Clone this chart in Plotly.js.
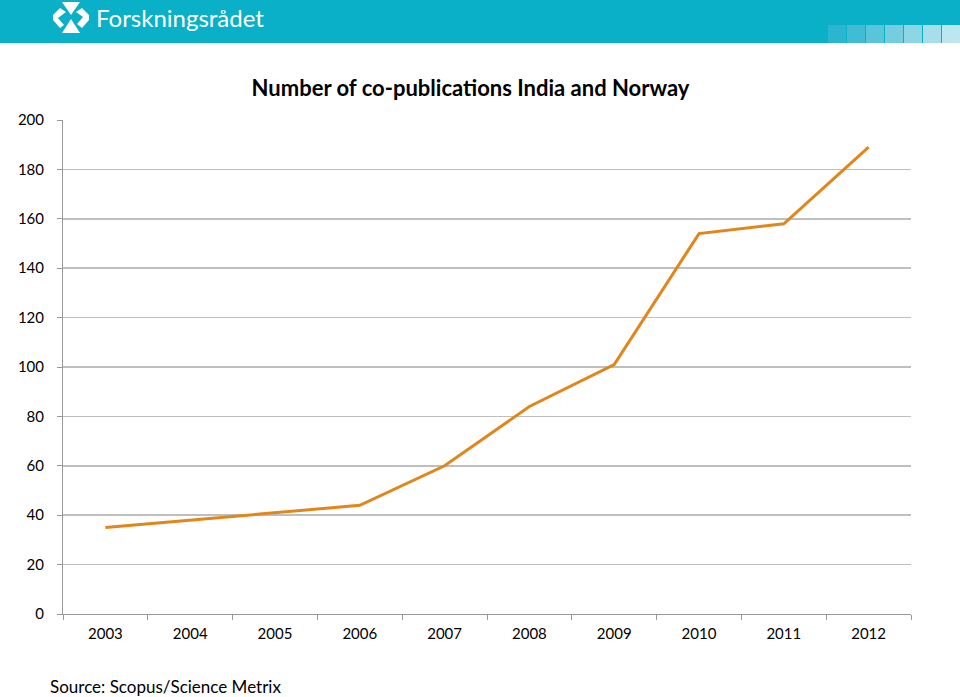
<!DOCTYPE html>
<html>
<head>
<meta charset="utf-8">
<script src="https://cdn.plot.ly/plotly-3.0.1.min.js"></script>
<style>html,body{margin:0;padding:0;background:#fff;}#chart{width:960px;height:697px;}</style>
</head>
<body>
<div id="chart"></div>
<script>
const years = ["2003","2004","2005","2006","2007","2008","2009","2010","2011","2012"];
const coPublications = [35, 38, 41, 44, 60, 84, 101, 154, 158, 189];
const yTicks = [0, 20, 40, 60, 80, 100, 120, 140, 160, 180, 200];
const chartTitle = "Number of co-publications India and Norway";
const sourceText = "Source: Scopus/Science Metrix";
const brandName = "Forskningsrådet";

const W = 960, H = 697;
const L = 63, R = 911, T = 120, B = 614;
const px = x => (x - L) / (R - L);
const py = y => (B - y) / (B - T);

const shapes = [];
shapes.push({type:'rect', xref:'paper', yref:'paper', x0:px(0), x1:px(W), y0:py(0), y1:py(43), fillcolor:'#0AAFC8', line:{width:0}, layer:'below'});
const sq = ['#2AB6CE','#40BDD4','#5AC5DA','#75CEE0','#8DD6E5','#A6DFEB','#BDE7F0'];
sq.forEach((c,i)=>{
  shapes.push({type:'rect', xref:'paper', yref:'paper', x0:px(828+i*19), x1:px(828+(i+1)*19-1), y0:py(25), y1:py(43), fillcolor:c, line:{width:0}});
});
function path(pts){ return 'M ' + pts.map(p=>px(p[0])+' '+py(p[1])).join(' L ') + ' Z'; }
shapes.push({type:'path', xref:'paper', yref:'paper', path:path([[62,2],[80,2],[71,15]]), fillcolor:'#fff', line:{width:0}});
shapes.push({type:'path', xref:'paper', yref:'paper', path:path([[71,19],[80,33],[62,33]]), fillcolor:'#fff', line:{width:0}});
shapes.push({type:'path', xref:'paper', yref:'paper', path:path([[60,8],[66,12],[58,18],[64,25],[60,28],[53,20],[53,15]]), fillcolor:'#fff', line:{width:0}});
shapes.push({type:'path', xref:'paper', yref:'paper', path:path([[82,8],[89,15],[89,20],[82,28],[77,24],[83,17],[76,12]]), fillcolor:'#fff', line:{width:0}});

const annotations = [
  {xref:'paper', yref:'paper', x:px(94), y:py(18), xanchor:'left', yanchor:'middle', showarrow:false,
   text:brandName, font:{family:'Lato, Open Sans, sans-serif', size:24, color:'#ffffff'}},
  {xref:'paper', yref:'paper', x:px(48), y:py(686), xanchor:'left', yanchor:'middle', showarrow:false,
   text:sourceText, font:{family:'Lato, Open Sans, sans-serif', size:17, color:'#000'}}
];

const trace = {
  x: years, y: coPublications, type:'scatter', mode:'lines',
  line:{color:'#E0861A', width:3}, hoverinfo:'x+y'
};

const layout = {
  width:W, height:H,
  margin:{l:L, r:W-R, t:T, b:H-B, pad:0},
  paper_bgcolor:'#fff', plot_bgcolor:'#fff',
  title:{text:'<b>'+chartTitle+'</b>', x:470.5/W, xanchor:'center', y:1-88/H, yanchor:'middle',
    font:{family:'Lato, Open Sans, sans-serif', size:22, color:'#000'}},
  showlegend:false,
  xaxis:{type:'category', tickvals:years, ticktext:years, range:[-0.5,9.5], tickson:'boundaries', ticks:'outside', ticklen:5, tickcolor:'#999',
    showline:true, linecolor:'#999', linewidth:1, showgrid:false, zeroline:false, ticklabelstandoff:6,
    tickfont:{family:'Lato, Open Sans, sans-serif', size:15, color:'#000'}, fixedrange:true},
  yaxis:{range:[0,200], tickvals:yTicks, ticks:'outside', ticklen:5, tickcolor:'#999',
    showline:true, linecolor:'#999', linewidth:1, showgrid:true, gridcolor:'#BFBFBF', gridwidth:1.5,
    zeroline:false, ticklabelstandoff:10, tickfont:{family:'Lato, Open Sans, sans-serif', size:15, color:'#000'}, fixedrange:true},
  shapes:shapes, annotations:annotations
};

Plotly.newPlot('chart', [trace], layout, {displayModeBar:false, staticPlot:true});
</script>
</body>
</html>
